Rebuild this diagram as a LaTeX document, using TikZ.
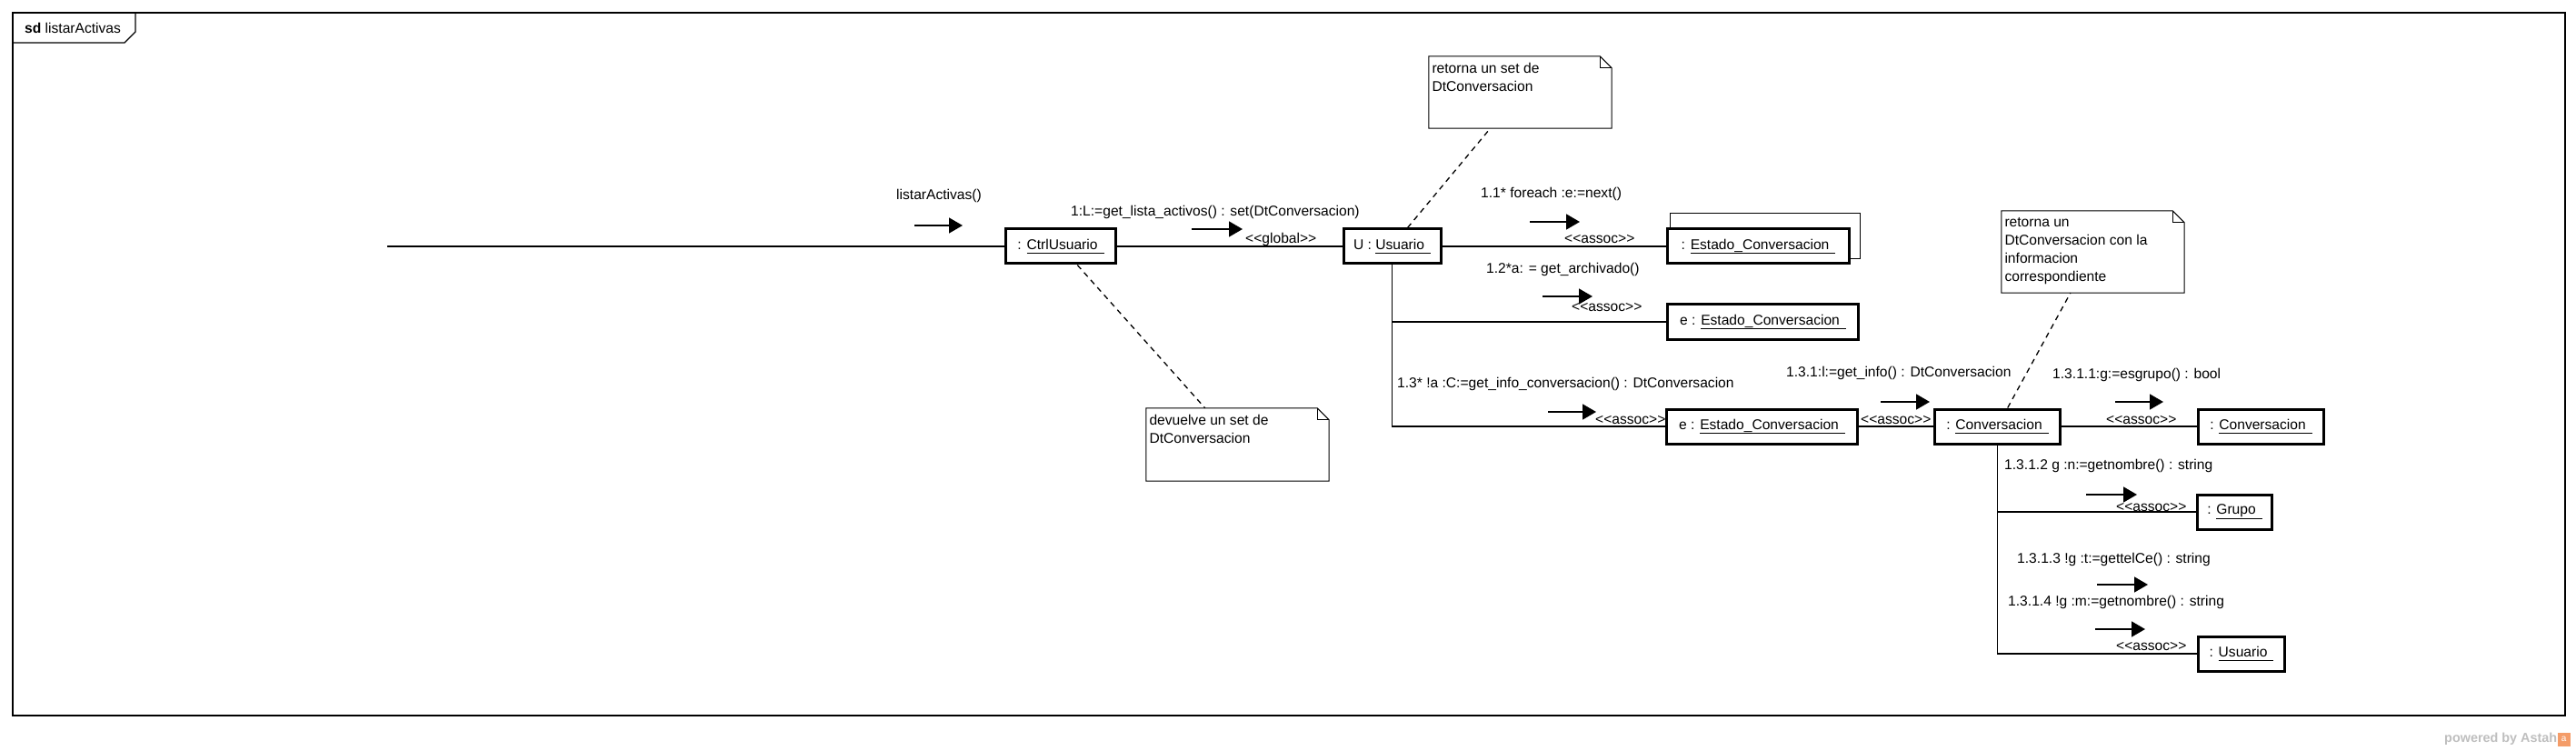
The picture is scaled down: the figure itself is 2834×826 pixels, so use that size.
\documentclass[tikz,border=0pt]{standalone}
\usepackage{fontspec}
\setmainfont{Liberation Sans}
\usetikzlibrary{arrows.meta,calc}
\definecolor{astahgray}{RGB}{190,190,190}
\definecolor{astahorange}{RGB}{244,156,104}
\newcommand\ulname[1]{\setbox0=\hbox{#1\hspace{7pt}}\rlap{\rule[-5pt]{\wd0}{1.3pt}}\box0}
\newcommand\st[1]{<{}<#1>{}>}
\newcommand\notetext[2]{\parbox[c][#1pt][t]{194pt}{\raggedright\vspace*{7pt}#2}}
\newcommand\drawnote[1]{%
  \draw[noteline] (#1.north west) -- ($(#1.north east)+(-13,0)$) -- ($(#1.north east)+(0,13)$) -- (#1.south east) -- (#1.south west) -- cycle;
  \draw[noteline] ($(#1.north east)+(-13,0)$) -- ($(#1.north east)+(-13,13)$) -- ($(#1.north east)+(0,13)$);}
\begin{document}
\begin{tikzpicture}[x=1pt,y=-1pt,
  every node/.style={font=\fontsize{15.6}{20}\selectfont},
  obj/.style={draw, line width=3pt, fill=white, minimum height=38pt, inner sep=0pt},
  conn/.style={line width=1.4pt},
  lbl/.style={anchor=west, inner sep=0pt},
  msg/.style={line width=1.5pt, -{Triangle[length=15pt,width=17pt]}},
  notebox/.style={inner sep=0pt, minimum width=201pt},
  noteline/.style={line width=1pt},
  anchorline/.style={line width=1.3pt, dash pattern=on 6pt off 5pt}]

\useasboundingbox (0,0) rectangle (2834,826);

% frame
\draw[line width=1.3pt] (14,14) rectangle (2822,787);
\draw[line width=1.3pt] (14,47) -- (137,47) -- (149,35) -- (149,14);
\node[lbl] (title) at (27,31) {\textbf{sd} listarActivas};

% objects
\node[obj, minimum width=121pt] (ctrl) at (1167,271) {: \ulname{CtrlUsuario}};
\node[obj, minimum width=107pt] (U) at (1531.5,271) {U : \ulname{Usuario}};
\draw[line width=1pt] (1837,252) -- (1837,235) -- (2046,235) -- (2046,285) -- (2036,285);
\node[obj, minimum width=200pt] (est1) at (1934.5,271) {: \ulname{Estado\_Conversacion}};
\node[obj, minimum width=210pt, minimum height=39pt] (est2) at (1939.5,354) {e : \ulname{Estado\_Conversacion}};
\node[obj, minimum width=210pt] (est3) at (1938.5,469) {e : \ulname{Estado\_Conversacion}};
\node[obj, minimum width=138pt] (conv) at (2197.5,469) {: \ulname{Conversacion}};
\node[obj, minimum width=138pt] (conv2) at (2487.5,469) {: \ulname{Conversacion}};
\node[obj, minimum width=82pt] (grupo) at (2458.5,563) {: \ulname{Grupo}};
\node[obj, minimum width=95pt] (usu) at (2466,719) {: \ulname{Usuario}};

% notes
\node[notebox, minimum height=79pt] (n1) at (1672.5,101.5) {\notetext{79}{retorna un set de\\DtConversacion}};
\node[notebox, minimum height=80pt] (n2) at (1361.5,489) {\notetext{80}{devuelve un set de\\DtConversacion}};
\node[notebox, minimum height=90pt] (n3) at (2302.5,277) {\notetext{90}{retorna un\\DtConversacion con la\\informacion\\correspondiente}};
\drawnote{n1}
\drawnote{n2}
\drawnote{n3}

% links
\coordinate (start) at (426,271);
\draw[conn] (start) -- (ctrl);
\draw[conn] (ctrl) -- (U);
\draw[conn] (U) -- (est1);
\draw[conn] (U.south) |- (est3.west);
\draw[conn] (U.south |- est2.west) -- (est2.west);
\draw[conn] (est3) -- (conv);
\draw[conn] (conv) -- (conv2);
\draw[conn] (conv.south) |- (usu.west);
\draw[conn] (conv.south |- grupo.west) -- (grupo.west);

% note anchors
\draw[anchorline] (ctrl) -- (n2);
\draw[anchorline] (U) -- (n1);
\draw[anchorline] (conv) -- (n3);

% message labels
\node[lbl] (m0) at (986,215) {listarActivas()};
\node[lbl] (m1) at (1178,233) {1:L:=get\_lista\_activos() : set(DtConversacion)};
\node[lbl] (s1) at (1370,263) {\st{global}};
\node[lbl] (m11) at (1629,213) {1.1* foreach :e:=next()};
\node[lbl] (s11) at (1721,263) {\st{assoc}};
\node[lbl] (m12) at (1635,296) {1.2*a: = get\_archivado()};
\node[lbl] (s12) at (1729,338) {\st{assoc}};
\node[lbl] (m13) at (1537,422) {1.3* !a :C:=get\_info\_conversacion() : DtConversacion};
\node[lbl] (s13) at (1755,462) {\st{assoc}};
\node[lbl] (s131) at (2047,462) {\st{assoc}};
\node[lbl] (m131) at (1965,410) {1.3.1:l:=get\_info() : DtConversacion};
\node[lbl] (m1311) at (2258,412) {1.3.1.1:g:=esgrupo() : bool};
\node[lbl] (s1311) at (2317,462) {\st{assoc}};
\node[lbl] (m1312) at (2205,512) {1.3.1.2 g :n:=getnombre() : string};
\node[lbl] (s1312) at (2328,558) {\st{assoc}};
\node[lbl] (m1313) at (2219,615) {1.3.1.3 !g :t:=gettelCe() : string};
\node[lbl] (m1314) at (2209,662) {1.3.1.4 !g :m:=getnombre() : string};
\node[lbl] (s1314) at (2328,711) {\st{assoc}};

% message arrows
\draw[msg] (1006,248) -- (1059,248);
\draw[msg] (1311,252) -- (1367,252);
\draw[msg] (1683,244) -- (1738,244);
\draw[msg] (1697,326) -- (1752,326);
\draw[msg] (1703,453) -- (1756,453);
\draw[msg] (2069,442) -- (2123,442);
\draw[msg] (2327,442) -- (2380,442);
\draw[msg] (2295,544) -- (2351,544);
\draw[msg] (2307,643) -- (2363,643);
\draw[msg] (2305,692) -- (2360,692);

% footer
\node[anchor=west, inner sep=0pt, text=astahgray, font=\fontsize{14.4}{16}\selectfont\bfseries] (pw) at (2689,813) {powered by Astah};
\node[fill=astahorange, minimum width=14pt, minimum height=15pt, inner sep=0pt, anchor=west, text=white, font=\fontsize{10}{10}\selectfont] (logo) at (pw.east) {a};
\end{tikzpicture}
\end{document}
